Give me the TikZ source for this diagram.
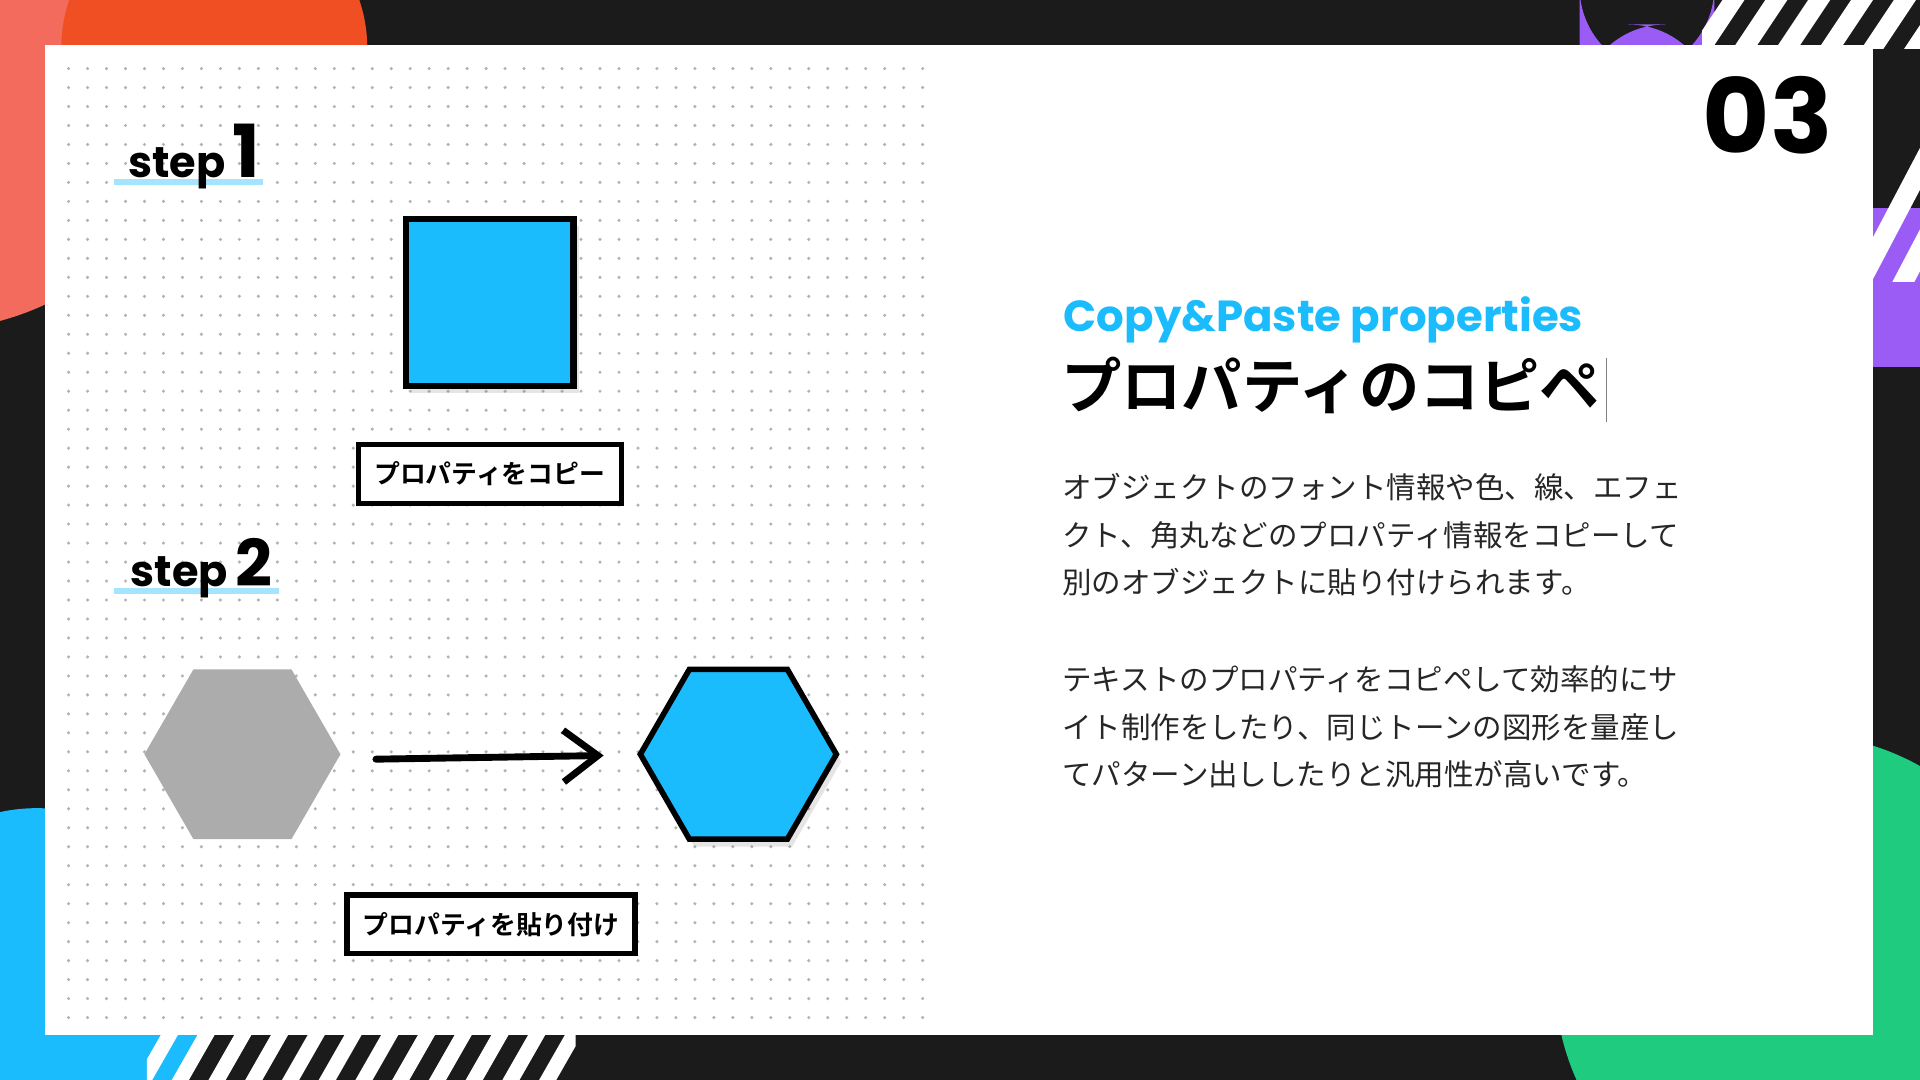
\documentclass[tikz,border=0pt]{standalone}
\usepackage{fontspec}
\setmainfont{Poppins}
\newfontfamily\jp{Noto Sans CJK JP}
\newfontfamily\jpb{Noto Sans CJK JP Bold}
\usetikzlibrary{shapes.geometric,shadows,arrows.meta}
\definecolor{skyblue}{HTML}{1BBCFD}
\definecolor{darkbg}{HTML}{1B1B1B}
\definecolor{blobred}{HTML}{F04E23}
\definecolor{blobpink}{HTML}{F36B5C}
\definecolor{blobpurple}{HTML}{9B5CF6}
\definecolor{blobgreen}{HTML}{1ECB7F}
\tikzset{
  labelbox/.style={draw,line width=1.2pt,fill=white,minimum width=2.15cm,minimum height=0.48cm,font=\jpb\fontsize{6}{7}\selectfont},
  hexa/.style={regular polygon,regular polygon sides=6,shape border rotate=0,minimum size=1.6cm,inner sep=0pt},
  softshadow/.style={drop shadow={opacity=0.2,shadow xshift=0.04cm,shadow yshift=-0.06cm}},
  steptext/.style={font=\bfseries\fontsize{10}{12}\selectfont,anchor=base west,inner sep=0pt}
}
\begin{document}
\begin{tikzpicture}[x=0.01cm,y=-0.01cm]
\useasboundingbox (0,0) rectangle (1568,882);
% background and blobs
\fill[darkbg] (0,0) rectangle (1568,882);
\fill[blobpink] (-60,40) circle (230);
\fill[blobred] (175,40) circle (125);
\fill[skyblue] (30,800) circle (140);
\fill[blobpurple,rounded corners=20] (1290,20) rectangle (1400,60);
\fill[blobpurple] (1500,170) rectangle (1568,300);
\fill[blobgreen] (1470,800) circle (200);
\begin{scope}
\clip (1390,0) rectangle (1568,230);
\foreach \i in {0,...,12}
  \fill[white] (1380+\i*35,40) -- (1398+\i*35,40) -- (1438+\i*35,-20) -- (1420+\i*35,-20) -- cycle;
\foreach \i in {0,...,6}
  \fill[white] (1500+\i*35,250) -- (1518+\i*35,250) -- (1618+\i*35,60) -- (1600+\i*35,60) -- cycle;
\end{scope}
\begin{scope}
\clip (120,840) rectangle (470,882);
\foreach \i in {0,...,12}
  \fill[white] (100+\i*30,900) -- (114+\i*30,900) -- (154+\i*30,830) -- (140+\i*30,830) -- cycle;
\end{scope}
% white panel
\fill[white] (37,37) rectangle (1530,845);
% dot grid
\foreach \x in {0,...,45}
  \foreach \y in {0,...,50}
    \fill[gray!60] (56+\x*15.5,56+\y*15.5) circle (1.4);
% step 1
\fill[skyblue!40] (93,146) rectangle (215,151);
\node[steptext] (s1) at (104,145) {step\,\fontsize{17}{17}\selectfont 1};
\node[draw,line width=1.5pt,fill=skyblue,minimum width=1.37cm,minimum height=1.36cm,softshadow] (sq) at (400,247) {};
\node[labelbox] (copy) at (400,387) {プロパティをコピー};
% step 2
\fill[skyblue!40] (93,480) rectangle (228,485);
\node[steptext] (s2) at (106,479) {step\,\fontsize{15}{15}\selectfont 2};
\node[hexa,fill=gray!65] (h1) at (198,616) {};
\node[hexa,draw,line width=1.3pt,fill=skyblue,softshadow] (h2) at (603,616) {};
\coordinate (a1) at (307,620);
\coordinate (a2) at (493,617);
\draw[line width=1.6pt,line cap=round,-{Straight Barb[length=8pt,width=12pt]}] (a1) -- (a2);
\node[labelbox,minimum width=2.35cm] (paste) at (401,755) {プロパティを貼り付け};
% right text
\node[anchor=base west,inner sep=0pt,text=skyblue,font=\bfseries\fontsize{10.1}{12}\selectfont] (en) at (868,271) {Copy\&Paste properties};
\node[anchor=base west,inner sep=0pt,font=\jpb\fontsize{14}{15}\selectfont] (ttl) at (866,334) {プロパティのコピペ};
\draw[gray] (1312,292) -- (1312,345);
\node[anchor=north west,align=left,inner sep=0pt,font=\jp\fontsize{6.85}{11}\selectfont,text=black!85] (p1) at (867,386)
  {オブジェクトのフォント情報や色、線、エフェ\\クト、角丸などのプロパティ情報をコピーして\\別のオブジェクトに貼り付けられます。};
\node[anchor=north west,align=left,inner sep=0pt,font=\jp\fontsize{6.85}{11}\selectfont,text=black!85] (p2) at (867,543)
  {テキストのプロパティをコピペして効率的にサ\\イト制作をしたり、同じトーンの図形を量産し\\てパターン出ししたりと汎用性が高いです。};
% number
\node[anchor=base west,font=\bfseries\fontsize{24}{24}\selectfont,inner sep=0pt] (num) at (1390,125) {03};
\end{tikzpicture}
\end{document}
